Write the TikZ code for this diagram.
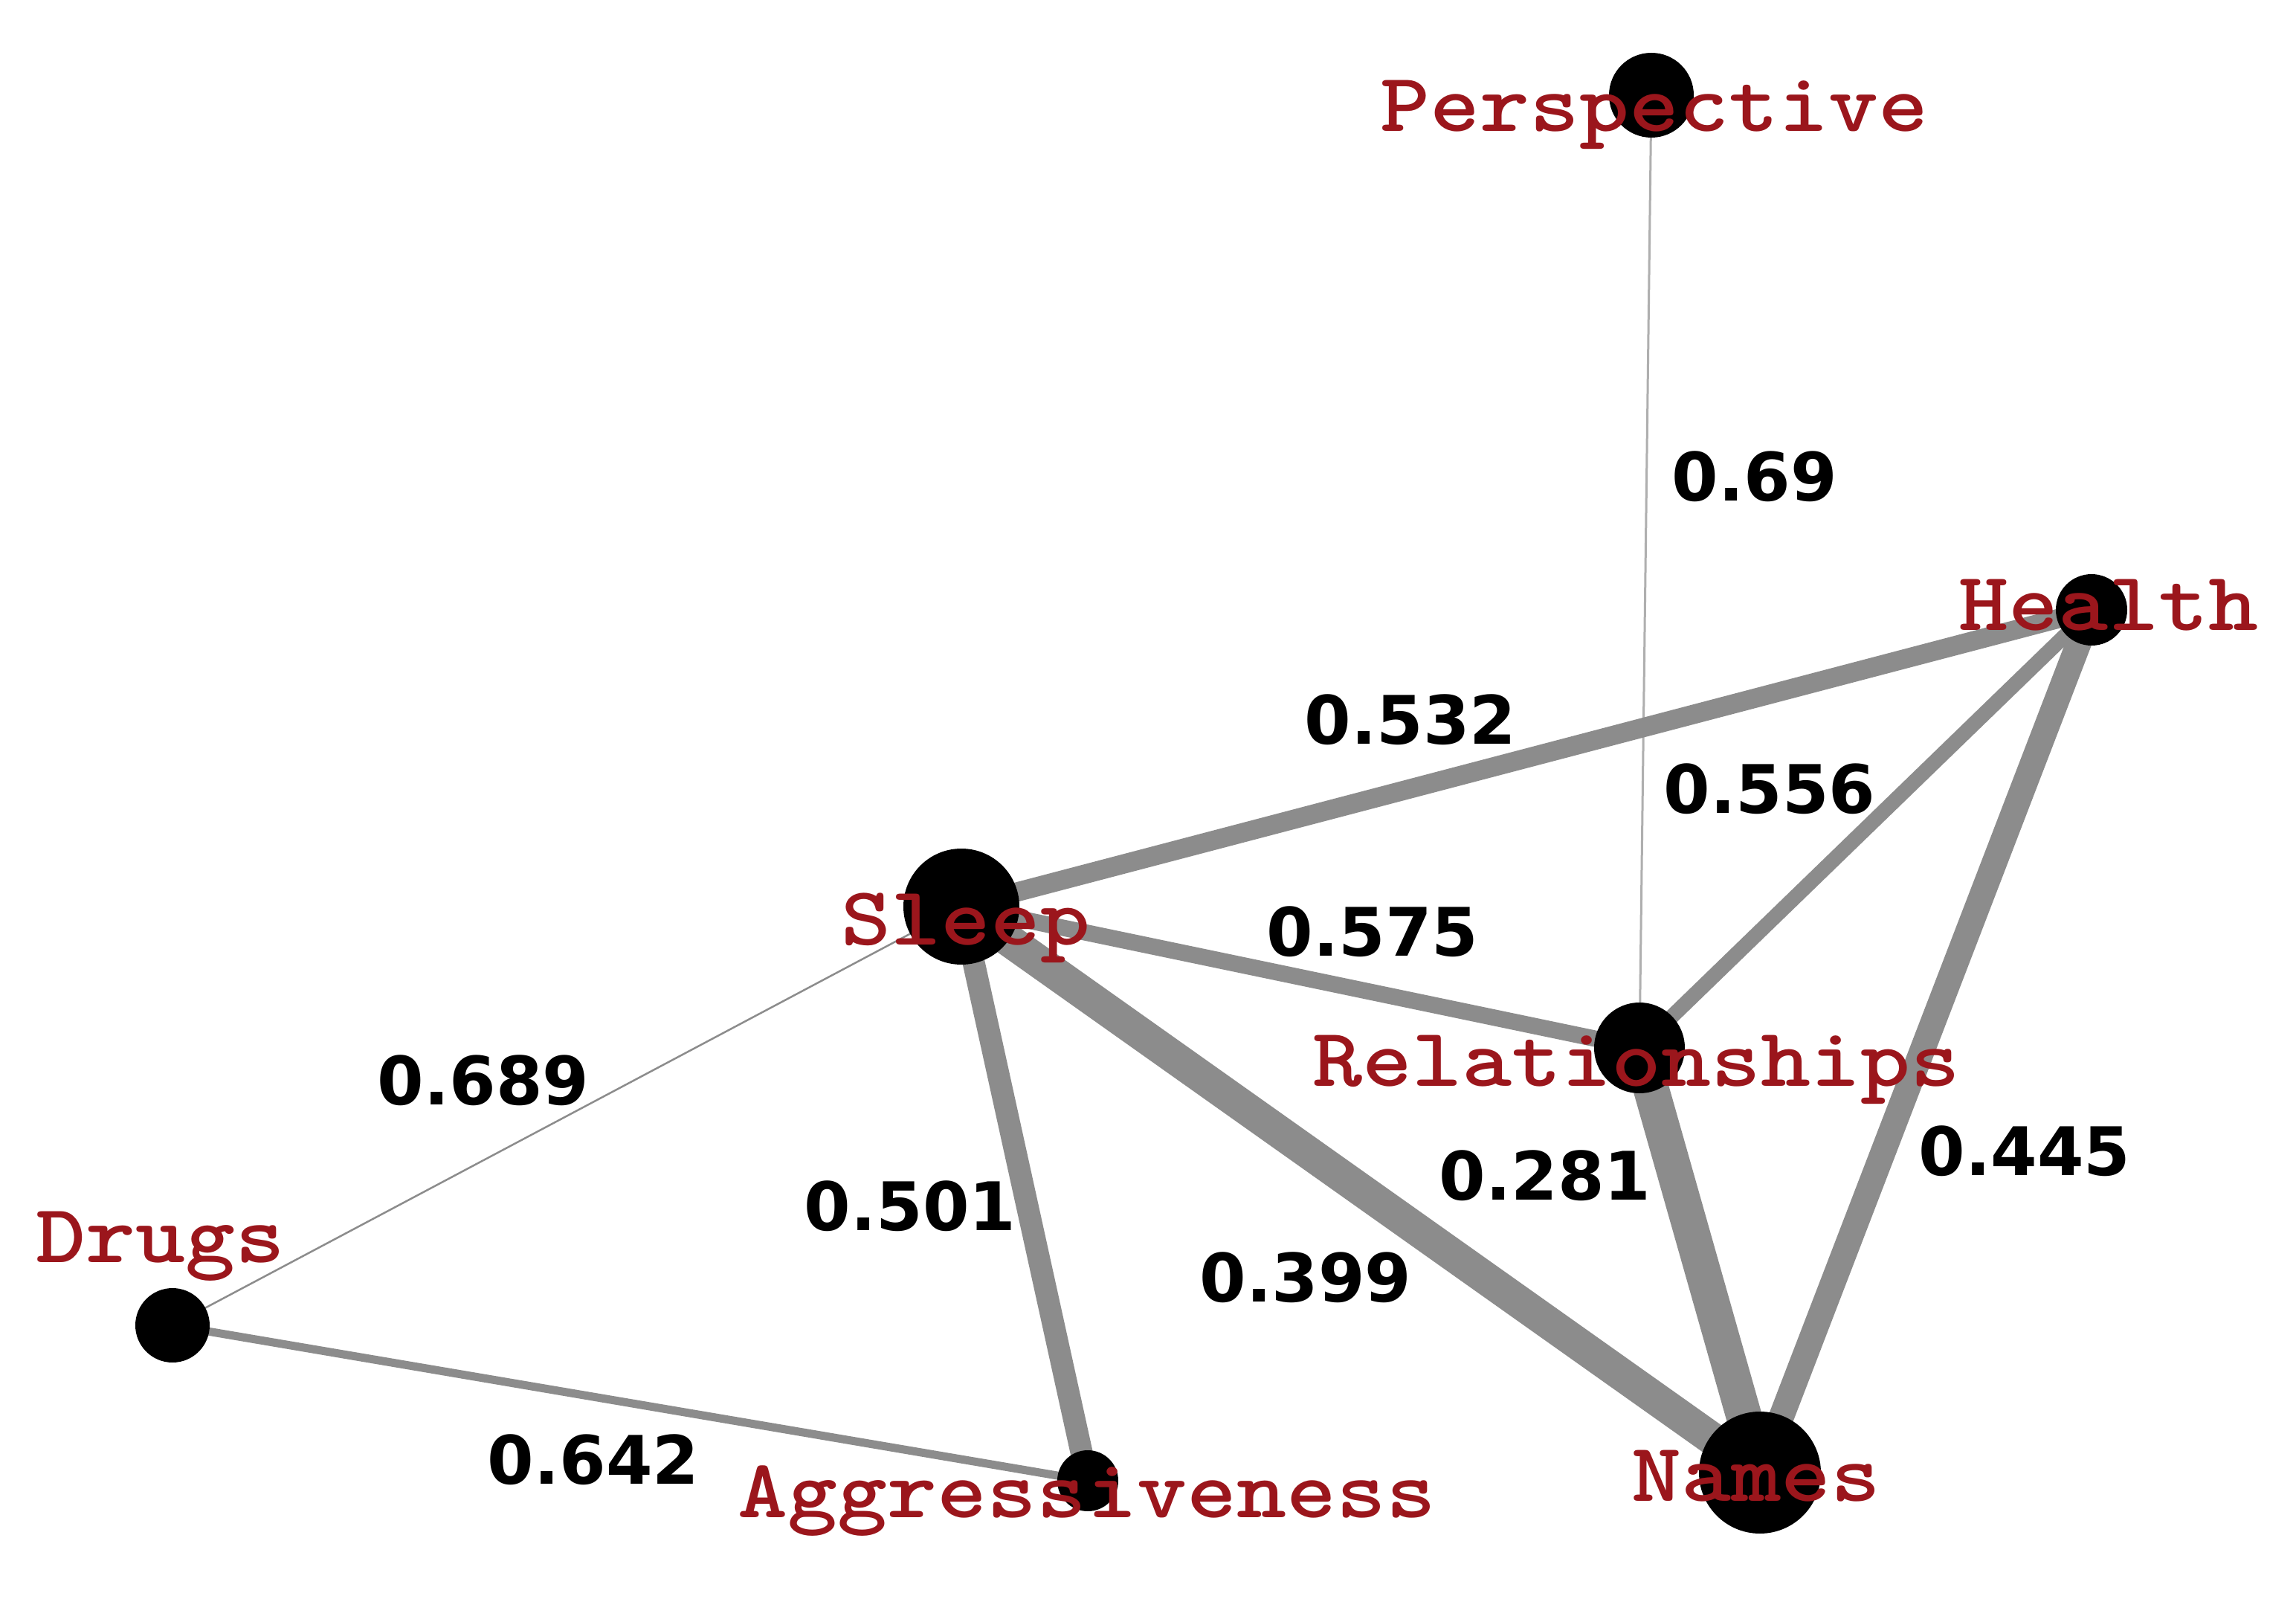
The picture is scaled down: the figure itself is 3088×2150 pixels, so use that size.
\documentclass[tikz,border=0pt]{standalone}
\usepackage{fontspec}
\newfontfamily\labfont{lmmonolt10-bold.otf}[FakeStretch=1.14]
\newfontfamily\numfont{DejaVu Sans}
\definecolor{labred}{RGB}{155,22,28}
\definecolor{edgegray}{RGB}{140,140,140}
\definecolor{thingray}{RGB}{175,175,175}
\tikzset{
  vdot/.style={circle, fill=black, inner sep=0pt, minimum size=#1},
  vlabel/.style={text=labred, anchor=base, inner sep=0pt, font=\labfont\fontsize{28}{30}\selectfont},
  wlabel/.style={text=black, anchor=center, inner sep=0pt, font=\numfont\bfseries\fontsize{22.5}{26}\selectfont},
  edge/.style={draw=edgegray, line width=#1*0.25pt},
}
\begin{document}
\begin{tikzpicture}[x=0.25pt, y=-0.25pt]
\useasboundingbox[fill=white] (0,0) rectangle (3088,2150);
% positions
\coordinate (P) at (2221,128);
\coordinate (H) at (2813,820);
\coordinate (S) at (1293,1219);
\coordinate (R) at (2205,1409);
\coordinate (D) at (232,1782);
\coordinate (A) at (1463,1991);
\coordinate (N) at (2367,1980);
% edges
\draw[draw=thingray, line width=0.75pt] (P) -- (R);
\draw[edge=2.5] (S) -- (D);
\draw[edge=11] (D) -- (A);
\draw[edge=30] (S) -- (A);
\draw[edge=26] (S) -- (H);
\draw[edge=22] (S) -- (R);
\draw[edge=20] (H) -- (R);
\draw[edge=34] (H) -- (N);
\draw[edge=44] (S) -- (N);
\draw[edge=48] (R) -- (N);
% vertices
\node[vdot=114*0.25pt] (Pn) at (P) {};
\node[vdot=96*0.25pt] (Hn) at (H) {};
\node[vdot=156*0.25pt] (Sn) at (S) {};
\node[vdot=122*0.25pt] (Rn) at (R) {};
\node[vdot=100*0.25pt] (Dn) at (D) {};
\node[vdot=82*0.25pt] (An) at (A) {};
\node[vdot=164*0.25pt] (Nn) at (N) {};
% vertex labels
\node[vlabel] (Pl) at (2225,177) {Perspective};
\node[vlabel] (Hl) at (2836,848) {Health};
\node[vlabel] (Sl) at (1299,1270) {Sleep};
\node[vlabel] (Rl) at (2201,1460) {Relationships};
\node[vlabel] (Dl) at (216,1697) {Drugs};
\node[vlabel] (Al) at (1462,2040) {Aggressiveness};
\node[vlabel] (Nl) at (2362,2018) {Names};
% edge labels
\node[wlabel] (l1) at (2360,641) {0.69};
\node[wlabel] (l2) at (1897,968) {0.532};
\node[wlabel] (l3) at (2380,1061) {0.556};
\node[wlabel] (l4) at (1846,1253) {0.575};
\node[wlabel] (l5) at (650,1453) {0.689};
\node[wlabel] (l6) at (1224,1622) {0.501};
\node[wlabel] (l7) at (1756,1718) {0.399};
\node[wlabel] (l8) at (2078,1581) {0.281};
\node[wlabel] (l9) at (2723,1548) {0.445};
\node[wlabel] (l10) at (798,1963) {0.642};
\end{tikzpicture}
\end{document}
